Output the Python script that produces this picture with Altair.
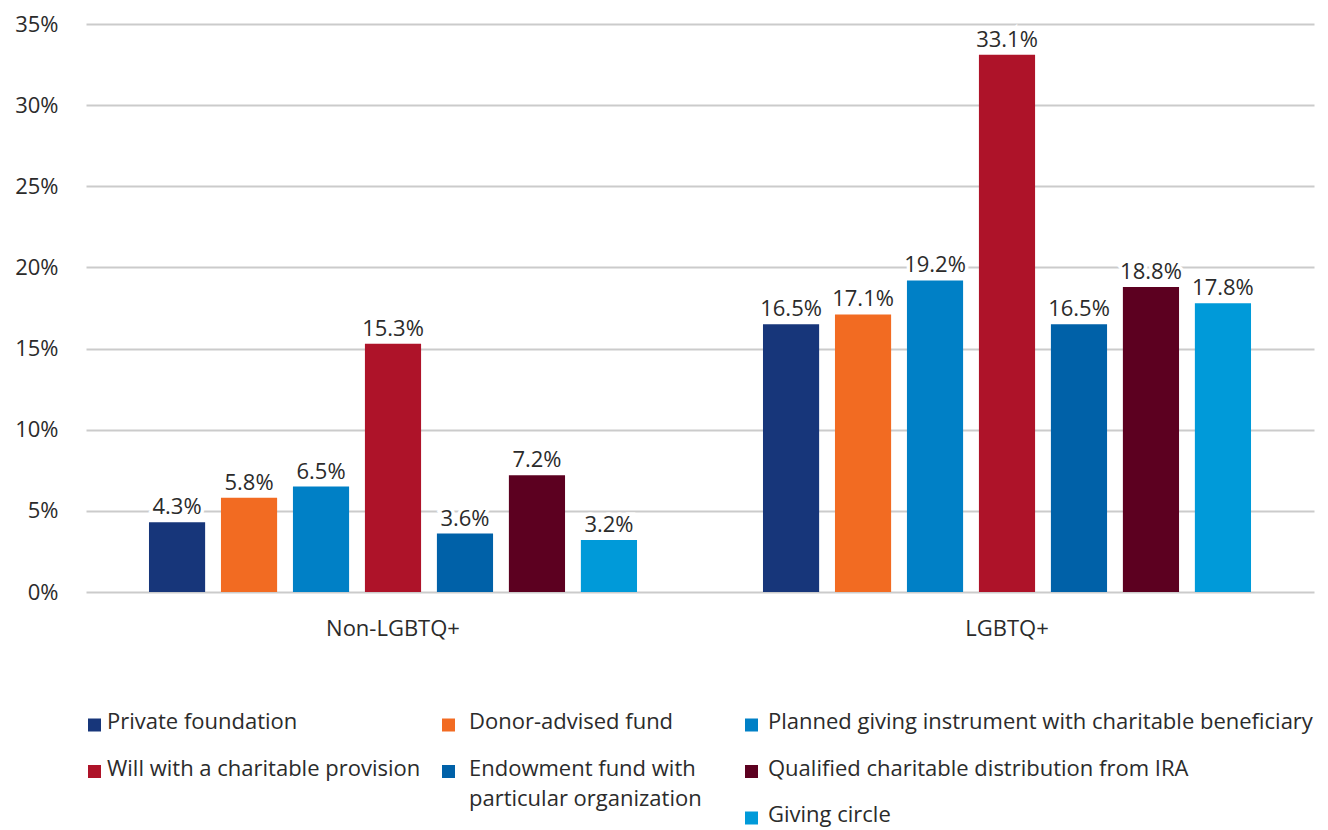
import altair as alt
import pandas as pd

groups = ["Non-LGBTQ+", "LGBTQ+"]
types = [
    "Private foundation",
    "Donor-advised fund",
    "Planned giving instrument with charitable beneficiary",
    "Will with a charitable provision",
    "Endowment fund with particular organization",
    "Qualified charitable distribution from IRA",
    "Giving circle",
]
non_lgbtq = [4.3, 5.8, 6.5, 15.3, 3.6, 7.2, 3.2]
lgbtq = [16.5, 17.1, 19.2, 33.1, 16.5, 18.8, 17.8]
colors = ["#17367a", "#f26b22", "#0080c6", "#ae1329", "#0061a8", "#5c0020", "#009ad9"]
y_ticks = [0, 0.05, 0.10, 0.15, 0.20, 0.25, 0.30, 0.35]

legend_labels = [
    "Private foundation",
    "Donor-advised fund",
    "Planned giving instrument with charitable beneficiary",
    "Will with a charitable provision",
    "Endowment fund with\nparticular organization",
    "Qualified charitable distribution from IRA",
    "Giving circle",
]

rows = []
for g, vals in zip(groups, [non_lgbtq, lgbtq]):
    for t, v in zip(types, vals):
        rows.append({"group": g, "type": t, "value": v / 100})
df = pd.DataFrame(rows)

FONT = "Open Sans"
TXT = "#2b2b2b"
FS = 22

base = alt.Chart(df).encode(
    x=alt.X("group:N", sort=groups,
            scale=alt.Scale(paddingInner=0, paddingOuter=0),
            axis=alt.Axis(title=None, labelAngle=0, domain=False, ticks=False,
                          labelPadding=26, labelFontSize=FS, labelColor=TXT)),
    xOffset=alt.XOffset("type:N", sort=types,
                        scale=alt.Scale(paddingInner=0.22, paddingOuter=0.875)),
    y=alt.Y("value:Q", scale=alt.Scale(domain=[0, 0.35], nice=False),
            axis=alt.Axis(values=y_ticks, format=".0%", title=None, domain=False,
                          ticks=False, gridColor="#cbcbcb", gridWidth=2,
                          labelPadding=28, labelFontSize=FS, labelColor=TXT)),
)

bars = base.mark_bar().encode(
    color=alt.Color("type:N", sort=types,
                    scale=alt.Scale(domain=types, range=colors), legend=None)
)
halo = base.mark_text(baseline="bottom", dy=-3, fontSize=FS, stroke="white",
                      strokeWidth=7, fill="white", font=FONT).encode(
    text=alt.Text("value:Q", format=".1%"))
labels = base.mark_text(baseline="bottom", dy=-3, fontSize=FS, color=TXT,
                        font=FONT).encode(
    text=alt.Text("value:Q", format=".1%"))

main = alt.layer(bars, halo, labels).properties(width=1228, height=568)

# custom legend: three columns
leg = pd.DataFrame({"type": types, "label": legend_labels})
order_cols = [0, 1, 2, 0, 1, 2, 2]
order_rows = [0, 0, 0, 1, 1, 1, 2]
leg["col"] = order_cols
leg["row"] = order_rows

col_widths = [354, 303, 571]
sq_x = [8.5, 8.5, 8.5]
text_dx = [21, 29, 25]
legend_cols = []
for c in range(3):
    sub = leg[leg["col"] == c]
    lb = alt.Chart(sub).encode(
        y=alt.Y("row:Q", scale=alt.Scale(domain=[0, 2], range=[0, 93]), axis=None)
    )
    sq = lb.mark_square(size=169, opacity=1).encode(
        x=alt.value(sq_x[c]),
        color=alt.Color("type:N", scale=alt.Scale(domain=types, range=colors),
                        legend=None),
    )
    tx = lb.mark_text(align="left", baseline="top", dy=-13, fontSize=FS,
                      color=TXT, font=FONT, lineBreak="\n", lineHeight=30).encode(
        x=alt.value(text_dx[c]),
        text="label:N",
    )
    legend_cols.append(alt.layer(sq, tx).properties(width=col_widths[c], height=93))

legend = alt.hconcat(*legend_cols, spacing=0)

chart = alt.vconcat(main, legend, spacing=72).properties(
    padding={"left": 6, "top": 5, "right": 5, "bottom": 5}
).resolve_scale(color="independent").configure(font=FONT).configure_view(stroke=None)

chart.save("out.html", embed_options={"renderer": "svg", "actions": False})
